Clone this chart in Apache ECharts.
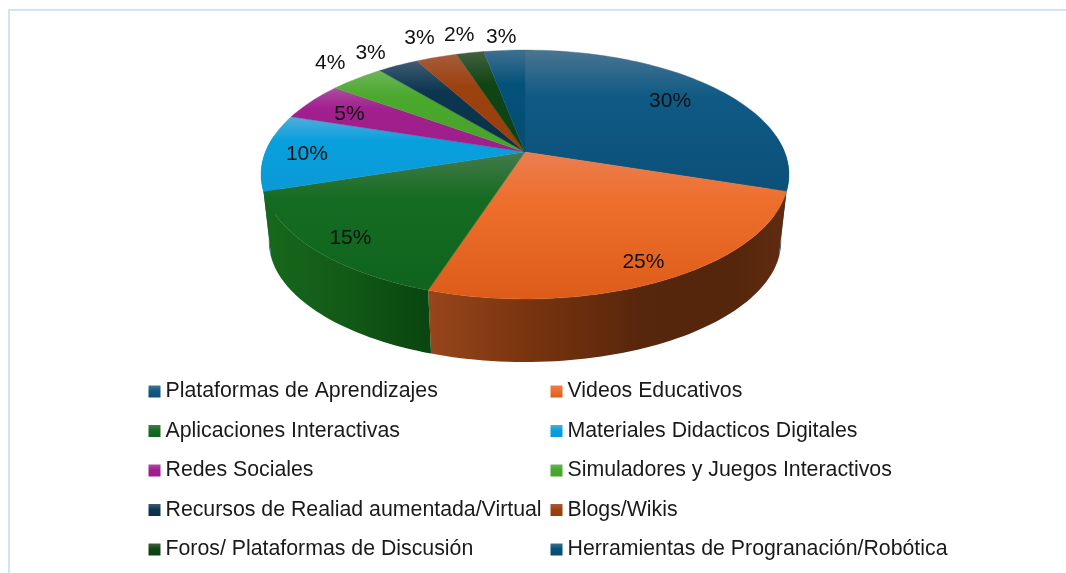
<!DOCTYPE html>
<html><head><meta charset="utf-8">
<style>html,body{margin:0;padding:0;background:#fff}#c{width:1066px;height:573px}</style>
<script src="https://cdn.jsdelivr.net/npm/echarts@6/dist/echarts.min.js"></script>
</head><body><div id="c"></div>
<script>
// ---- data ----
const categories = ["Plataformas de Aprendizajes","Videos Educativos","Aplicaciones Interactivas","Materiales Didacticos Digitales","Redes Sociales","Simuladores y Juegos Interactivos","Recursos de Realiad aumentada/Virtual","Blogs/Wikis","Foros/ Plataformas de Discusión","Herramientas de Progranación/Robótica"];
const values = [30,25,15,10,5,4,3,3,2,3];
// ---- styles: surface highlight / base / shade ----
const topLight = ["#4a7591","#ea7e50","#467a4c","#4faddc","#aa4ea0","#6cb558","#405c72","#a65c3c","#42603f","#3f6f90"];
const topBase  = ["#0f5a85","#ee6f2d","#146c21","#06a0dd","#a11f8e","#4aa82c","#0c3650","#9c420f","#0f4514","#04527b"];
const topDark  = ["#0b5079","#dd5c19","#10641e","#0b9ad6","#9d1f8c","#48a42b","#0a3049","#963e0d","#0d4012","#044c72"];
const wallStops = {
  0:[[0,"#1d5d7f"],[1,"#1d5d7f"]],
  1:[[0,"#98461b"],[0.28,"#78340f"],[0.6,"#57260c"],[0.85,"#54260c"],[1,"#602c11"]],
  2:[[0,"#17681c"],[0.5,"#125a17"],[0.85,"#0b4a11"],[1,"#0a4512"]],
  3:[[0,"#0b6f9f"],[1,"#0b6f9f"]]
};
const legendLeft = [0,2,4,6,8], legendRight = [1,3,5,7,9];
// label placement: radial factor, angular shift, per slice
const labelRadial = [0.77,0.865,0.86,0.84,0.8,1.23,1.21,1.265,1.24,1.18];
const labelShift  = [-2,0,-1,0,-1,1.9,-1.2,0.5,0,0];
const labelDrop = 2;
const total = values.reduce((a,b)=>a+b,0);

// ---- perspective disc ----
const cx=525;
const topDisc={y:152,a:259.6,b:120.4,k:0.1807};
const botDisc={y:219.3,a:252,b:117,k:0.18};
function project(d,phi,r){
  const t=phi*Math.PI/180,u=Math.sin(t)*r,v=-Math.cos(t)*r,w=1-d.k*v;
  return [cx+d.a*u/w,d.y+d.b*v/w];
}
function arc(d,p0,p1){
  const n=Math.max(2,Math.ceil(Math.abs(p1-p0)/1.5)),pts=[];
  for(let i=0;i<=n;i++)pts.push(project(d,p0+(p1-p0)*i/n,1));
  return pts;
}
const wallFrom=82, wallTo=278;
function renderSlice(params,api){
  const i=params.seriesIndex;
  let before=0;for(let j=0;j<i;j++)before+=values[j];
  const p0=before/total*360,p1=(before+values[i])/total*360,mid=(p0+p1)/2;
  const children=[];
  // side wall
  const w0=Math.max(p0,wallFrom),w1=Math.min(p1,wallTo);
  if(w1>w0){
    const t=arc(topDisc,w0,w1),b=arc(botDisc,w1,w0),poly=t.concat(b);
    const xs=poly.map(q=>q[0]);
    const fill=new echarts.graphic.LinearGradient(Math.min(...xs),0,Math.max(...xs),0,
      wallStops[i].map(s=>({offset:s[0],color:s[1]})),true);
    children.push({type:'polygon',z2:(i===0||i===3)?5:10,shape:{points:poly},style:{fill:fill,stroke:null}});
  }
  // top surface
  const tp=[project(topDisc,0,0)].concat(arc(topDisc,p0,p1));
  const ys=tp.map(q=>q[1]),y0=Math.min(...ys),y1=Math.max(...ys);
  const fill=new echarts.graphic.LinearGradient(0,y0,0,y1,[
    {offset:0,color:topLight[i]},{offset:0.33,color:topBase[i]},{offset:1,color:topDark[i]}],true);
  children.push({type:'polygon',z2:20,shape:{points:tp},style:{fill:fill,stroke:fill,lineWidth:0.4}});
  // value label
  const lp=project(topDisc,mid+labelShift[i],labelRadial[i]);
  children.push({type:'text',z2:30,style:{text:Math.round(values[i]/total*100)+'%',x:lp[0],y:lp[1]+labelDrop,
    textAlign:'center',textVerticalAlign:'middle',fill:'#111',font:'21px "Liberation Sans", Arial, sans-serif'}});
  return {type:'group',children:children};
}
const series=categories.map((name,i)=>({name:name,type:'custom',coordinateSystem:'none',silent:true,
  data:[values[i]],renderItem:renderSlice,itemStyle:{color:topBase[i]},animation:false}));
function legendData(list){
  return list.map(i=>({name:categories[i],icon:'rect',itemStyle:{color:new echarts.graphic.LinearGradient(0,0,0,1,[
    {offset:0,color:topLight[i]},{offset:0.45,color:topBase[i]},{offset:1,color:topDark[i]}])}}));
}
const legendCommon={orient:'vertical',top:380,itemWidth:12,itemHeight:12,itemGap:16.5,selectedMode:false,padding:0,
  textStyle:{fontFamily:'"Liberation Sans", Arial, sans-serif',fontSize:21.3,color:'#1a1a1a',lineHeight:23}};
const chart=echarts.init(document.getElementById('c'),null,{renderer:'canvas'});
chart.setOption({
  animation:false,backgroundColor:'#fff',
  graphic:[{type:'polyline',silent:true,shape:{points:[[9,573],[9,10],[1066,10]]},style:{stroke:'#d2e3f3',lineWidth:2,fill:null}}],
  legend:[Object.assign({left:148.5,data:legendData(legendLeft)},legendCommon),
          Object.assign({left:550.5,data:legendData(legendRight)},legendCommon)],
  series:series
});
</script></body></html>
